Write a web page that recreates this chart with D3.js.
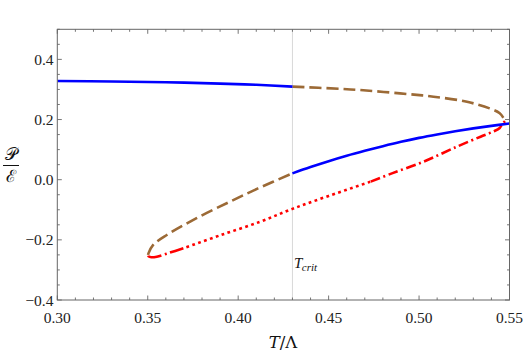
<!DOCTYPE html>
<html>
<head>
<meta charset="utf-8">
<script src="https://cdn.jsdelivr.net/npm/d3@7"></script>
<style>
  html, body { margin: 0; padding: 0; background: #fff; }
  svg { display: block; }
  .tl { font-family: "Liberation Serif"; font-size: 15.5px; fill: #222; }
</style>
</head>
<body>
<svg id="chart" width="523" height="357"></svg>
<script>
// ---- data ----
const xTickValues = [0.30, 0.35, 0.40, 0.45, 0.50, 0.55];
const xTickLabels = ["0.30", "0.35", "0.40", "0.45", "0.50", "0.55"];
const yTickValues = [-0.4, -0.2, 0.0, 0.2, 0.4];
const yTickLabels = ["\u22120.4", "\u22120.2", "0.0", "0.2", "0.4"];
const tCrit = 0.43;

// stable branch (blue), upper part
const blueUpperT = [0.300, 0.330, 0.360, 0.390, 0.410, 0.430];
const blueUpperP = [0.328, 0.3265, 0.324, 0.3195, 0.3155, 0.3095];
// stable branch (blue), lower part
const blueLowerT = [0.430, 0.440, 0.450, 0.460, 0.470, 0.480, 0.490, 0.500, 0.510, 0.520, 0.530, 0.540, 0.550];
const blueLowerP = [0.021, 0.042, 0.0615, 0.0795, 0.096, 0.1115, 0.126, 0.139, 0.1505, 0.161, 0.1705, 0.179, 0.187];
// metastable branch (brown dashed), upper part
const brownUpperT = [0.430, 0.4564, 0.4674, 0.4895, 0.508, 0.5265, 0.539, 0.5446, 0.5467, 0.5475];
const brownUpperP = [0.3095, 0.302, 0.298, 0.287, 0.276, 0.259, 0.237, 0.221, 0.205, 0.195];
// metastable branch (brown dashed), lower part
const brownLowerT = [0.3502, 0.3504, 0.353, 0.3605, 0.377, 0.3955, 0.411, 0.430];
const brownLowerP = [-0.250, -0.245, -0.217, -0.184, -0.128, -0.073, -0.029, 0.021];
// unstable branch (red), dash-dot right part
const redRightT = [0.5475, 0.5458, 0.5446, 0.541, 0.534, 0.521, 0.5025, 0.485, 0.473];
const redRightP = [0.195, 0.183, 0.172, 0.160, 0.143, 0.110, 0.060, 0.021, -0.007];
// unstable branch (red), dotted middle part
const redMidT = [0.473, 0.450, 0.430, 0.412, 0.390, 0.3697];
const redMidP = [-0.007, -0.054, -0.097, -0.140, -0.185, -0.228];
// unstable branch (red), dash-dot left part
const redLeftT = [0.3697, 0.362, 0.355, 0.352, 0.3505, 0.3502];
const redLeftP = [-0.228, -0.243, -0.256, -0.258, -0.255, -0.250];

// ---- layout ----
const svg = d3.select("#chart");
const L = 57.3, R = 509.5, T = 29.3, B = 300;
const x = d3.scaleLinear().domain([0.30, 0.55]).range([L, R]);
const y = d3.scaleLinear().domain([-0.4, 0.5]).range([B, T]);

svg.append("defs").append("clipPath").attr("id", "clip")
  .append("rect").attr("x", L).attr("y", T).attr("width", R - L).attr("height", B - T);

// T_crit vertical line
svg.append("line")
  .attr("x1", x(tCrit)).attr("x2", x(tCrit))
  .attr("y1", T).attr("y2", B)
  .attr("stroke", "#d8d8d8").attr("stroke-width", 1);

// curves
const line = d3.line().x(d => x(d[0])).y(d => y(d[1])).curve(d3.curveCatmullRom.alpha(0.5));
const zip = (a, b) => a.map((v, i) => [v, b[i]]);
const g = svg.append("g").attr("clip-path", "url(#clip)");

function draw(ts, ps, color, dash) {
  g.append("path")
    .attr("d", line(zip(ts, ps)))
    .attr("fill", "none")
    .attr("stroke", color)
    .attr("stroke-width", 2.6)
    .attr("stroke-linecap", "butt")
    .attr("stroke-linejoin", "round")
    .attr("stroke-dasharray", dash || null);
}
const brown = "#9c6a36";
draw(brownUpperT, brownUpperP, brown, "12,5");
draw(brownLowerT, brownLowerP, brown, "12,5");
draw(redMidT, redMidP, "#ff0000", "2.8,3.4");
draw(redRightT, redRightP, "#ff0000", "2,3.5,10,3.5");
draw(redLeftT, redLeftP, "#ff0000", "14,3.5,2,3.5");
draw(blueUpperT, blueUpperP, "#0000ff");
draw(blueLowerT, blueLowerP, "#0000ff");

// frame
const frameColor = "#666";
svg.append("rect").attr("x", L).attr("y", T).attr("width", R - L).attr("height", B - T)
  .attr("fill", "none").attr("stroke", frameColor).attr("stroke-width", 1);

// ticks
const xMinor = d3.range(0.30, 0.5501, 0.01).map(v => +v.toFixed(3));
const yMinor = d3.range(-0.4, 0.5001, 0.05).map(v => +v.toFixed(3));
const isMajorX = v => xTickValues.some(t => Math.abs(t - v) < 1e-6);
const isMajorY = v => yTickValues.some(t => Math.abs(t - v) < 1e-6);
const tickG = svg.append("g").attr("stroke", frameColor).attr("stroke-width", 0.9);
xMinor.forEach(v => {
  const len = isMajorX(v) ? 4.5 : 2.5;
  tickG.append("line").attr("x1", x(v)).attr("x2", x(v)).attr("y1", B).attr("y2", B - len);
  tickG.append("line").attr("x1", x(v)).attr("x2", x(v)).attr("y1", T).attr("y2", T + len);
});
yMinor.forEach(v => {
  const len = isMajorY(v) ? 4.5 : 2.5;
  tickG.append("line").attr("x1", L).attr("x2", L + len).attr("y1", y(v)).attr("y2", y(v));
  tickG.append("line").attr("x1", R).attr("x2", R - len).attr("y1", y(v)).attr("y2", y(v));
});

// tick labels
xTickValues.forEach((v, i) => {
  svg.append("text").attr("class", "tl")
    .attr("x", x(v)).attr("y", 322.5).attr("text-anchor", "middle").text(xTickLabels[i]);
});
yTickValues.forEach((v, i) => {
  svg.append("text").attr("class", "tl")
    .attr("x", 53.5).attr("y", y(v) + 5.5).attr("text-anchor", "end").text(yTickLabels[i]);
});

// axis label T/Λ
const xl = svg.append("text")
  .attr("x", 283).attr("y", 347.5).attr("text-anchor", "middle")
  .style("font-family", "'DejaVu Serif'").attr("font-size", 16.5).attr("fill", "#111");
xl.append("tspan").attr("font-style", "italic").text("T");
xl.append("tspan").text("/\u039B");

// y label: P over E (script)
const yl = svg.append("g").style("font-family", "'DejaVu Serif'").attr("fill", "#111");
yl.append("text").attr("x", 11).attr("y", 160).attr("text-anchor", "middle").attr("font-size", 17)
  .text("\uD835\uDCAB");
yl.append("line").attr("x1", 3).attr("x2", 19).attr("y1", 165.5).attr("y2", 165.5)
  .attr("stroke", "#111").attr("stroke-width", 1);
yl.append("text").attr("x", 11).attr("y", 182).attr("text-anchor", "middle").attr("font-size", 17)
  .text("\u2130");

// T_crit label
const tc = svg.append("text")
  .attr("x", 294).attr("y", 268)
  .style("font-family", "'Times New Roman', 'Liberation Serif'").attr("font-style", "italic")
  .attr("font-size", 15).attr("fill", "#111");
tc.append("tspan").text("T");
tc.append("tspan").attr("font-size", 11).attr("dy", 3).attr("dx", -0.5).text("crit");
</script>
</body>
</html>
